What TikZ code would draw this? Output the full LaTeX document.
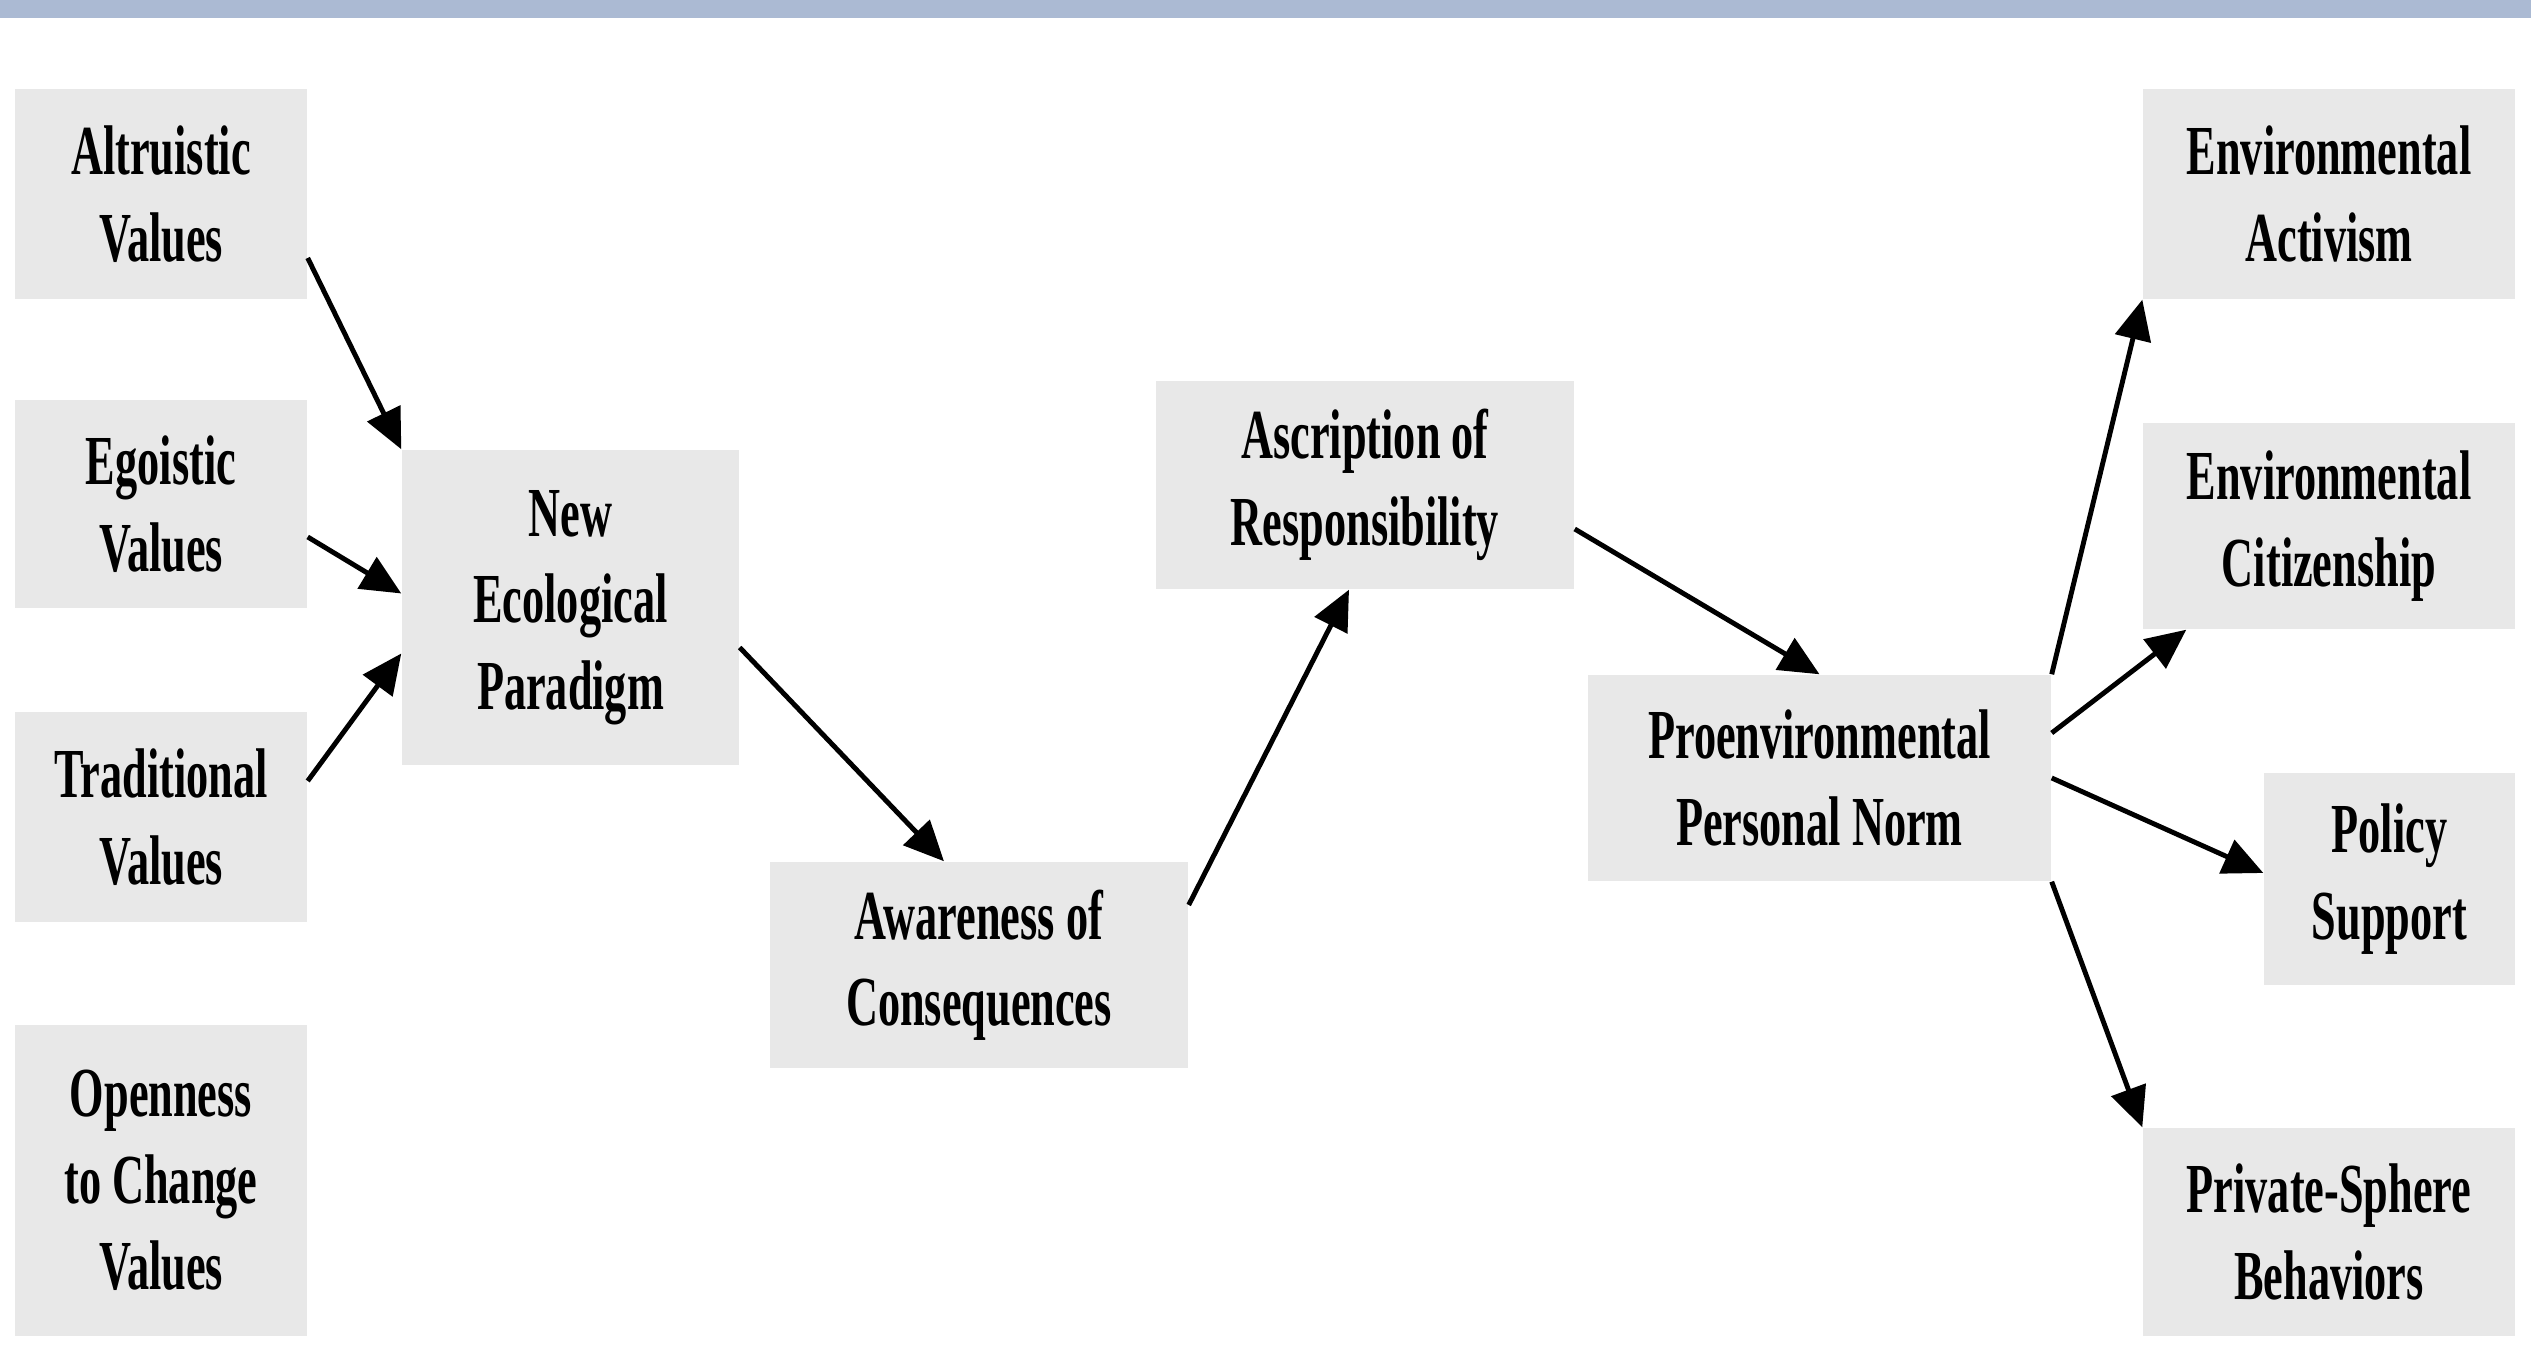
\documentclass[tikz,border=0pt]{standalone}
\usepackage{fontspec}
\setmainfont{Liberation Serif}[FakeStretch=0.63]
\usetikzlibrary{arrows.meta}
\definecolor{boxgray}{RGB}{232,232,232}
\definecolor{barblue}{RGB}{171,186,211}

\begin{document}
\begin{tikzpicture}[
		box/.style={fill=boxgray, inner sep=0pt, align=center,
			font=\fontsize{20}{24.6}\selectfont\bfseries},
		link/.style={-{Triangle[length=4mm,width=3.6mm]}, line width=1.4pt}]
			\useasboundingbox (0,0) rectangle (25.31,13.46);
			\fill[barblue] (0,13.28) rectangle (25.31,13.46);
			
			% values
			\node (alt)[box, minimum width=2.92cm, minimum height=2.10cm] at (1.61,11.52) {Altruistic\\Values};
			\node (ego)[box, minimum width=2.92cm, minimum height=2.08cm] at (1.61,8.42) {Egoistic\\Values};
			\node (trad)[box, minimum width=2.92cm, minimum height=2.10cm] at (1.61,5.29) {Traditional\\Values};
			\node (open)[box, minimum width=2.92cm, minimum height=3.11cm] at (1.61,1.655) {Openness\\to Change\\Values};
			
			% chain
			\node (nep)[box, minimum width=3.37cm, minimum height=3.15cm] at (5.705,7.385) {New\\Ecological\\Paradigm};
			\node (aw)[box, minimum width=4.18cm, minimum height=2.06cm] at (9.79,3.81) {Awareness of\\Consequences};
			\node (asc)[box, minimum width=4.18cm, minimum height=2.08cm] at (13.65,8.61) {Ascription of\\Responsibility};
			\node (pen)[box, minimum width=4.63cm, minimum height=2.06cm] at (18.195,5.68) {Proenvironmental\\Personal Norm};
			
			% behaviors
			\node (act)[box, minimum width=3.72cm, minimum height=2.10cm] at (23.29,11.52) {Environmental\\Activism};
			\node (cit)[box, minimum width=3.72cm, minimum height=2.06cm] at (23.29,8.20) {Environmental\\Citizenship};
			\node (pol)[box, minimum width=2.51cm, minimum height=2.12cm] at (23.895,4.67) {Policy\\Support};
			\node (priv)[box, minimum width=3.72cm, minimum height=2.08cm] at (23.29,1.14) {Private-Sphere\\Behaviors};
			
			\draw[link] ([yshift=-6.4mm]alt.east) -- (nep.north west);
			\draw[link] ([yshift=-3.3mm]ego.east) -- ([yshift=1.4mm]nep.west);
			\draw[link] ([yshift=3.6mm]trad.east) -- ([yshift=-4.6mm]nep.west);
			\draw[link] ([yshift=-4mm]nep.east) -- ([xshift=-3.5mm]aw.north);
			\draw[link] ([yshift=6mm]aw.east) -- ([xshift=-1.6mm]asc.south);
			\draw[link] ([yshift=-4.4mm]asc.east) -- (pen.north);
			
			\draw[link] (pen.north east) -- (act.south west);
			\draw[link] ([yshift=4.5mm]pen.east) -- ([xshift=4.4mm]cit.south west);
			\draw[link] (pen.east) -- ([yshift=0.6mm]pol.west);
			\draw[link] (pen.south east) -- (priv.north west);
		\end{tikzpicture}
\end{document}
